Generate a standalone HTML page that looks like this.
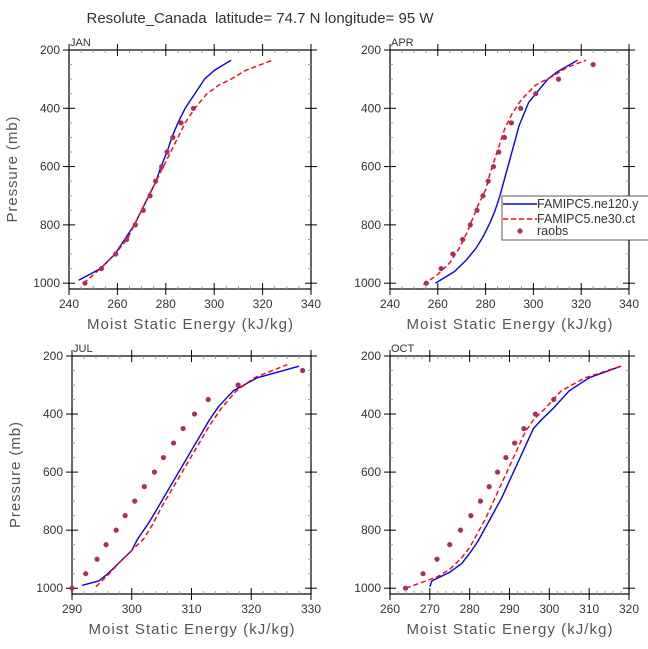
<!DOCTYPE html>
<html><head><meta charset="utf-8"><style>
html,body{margin:0;padding:0;background:#fff}
svg{display:block;font-family:"Liberation Sans",sans-serif}
</style></head><body>
<svg id="c" width="648" height="649" viewBox="0 0 648 649">
<text x="260" y="23" text-anchor="middle" font-size="15" fill="#333" style="white-space:pre" textLength="347">Resolute_Canada  latitude= 74.7 N longitude= 95 W</text>
</svg>
<script>
const levels=[1000,950,900,850,800,750,700,650,600,550,500,450,400,350,300,250];
const janObs=[246.6,253.4,259.3,263.8,267.4,270.7,273.5,275.8,278.3,280.5,282.9,286.3,291.4];
const janBlueX=[244,253,259,263,267,270,273,276,278,280.5,282.5,285,288,292,296,300,307];
const janBlueP=[990,950,900,850,800,750,700,650,600,550,500,450,400,350,300,270,235];
const janRedX=[246,253,259,264,267,270,273,276,279,282,285,288,292,297,302,307,313,324];
const janRedP=[1000,950,900,850,800,750,700,650,600,550,500,450,400,350,320,300,270,235];
const aprObs=[255.2,261.4,266.3,270.4,273.6,276.4,278.9,281.1,283.3,285.5,287.9,290.8,294.7,301,310.5,325];
const aprBlueX=[259,263,267,272,276,279,282,284,286,288,290,292,294,296,298,302,306,310,318.5];
const aprBlueP=[1000,980,960,920,880,840,790,750,700,640,580,520,460,420,380,340,300,275,235];
const aprRedX=[254,260,265,269,272,275,277,280,282,284,286,288,291,295,301,308,314,322];
const aprRedP=[1005,970,930,880,830,770,730,680,620,570,520,470,420,370,320,290,260,235];
const julObs=[290,292.3,294.2,295.7,297.4,298.9,300.5,302.1,303.8,305.3,307,308.6,310.5,312.8,317.8,328.6];
const julBlueX=[291.7,294.5,296,298,300,301,303,305,307,309,311,313,314.5,317,321,328];
const julBlueP=[990,975,950,910,870,830,770,700,630,560,490,420,375,320,275,235];
const julRedX=[294,296,298,300,302,303.5,305,307,309,311,313,315,317.5,320.5,326];
const julRedP=[995,955,910,870,830,780,720,650,580,510,440,380,320,275,230];
const octObs=[263.9,268.3,271.8,275,277.7,280.3,282.7,284.9,287,289.1,291.3,293.6,296.5,301.1];
const octBlueX=[270,270.5,272,275,278,280,282,284,286,288,290,292,294,296,298,301,305,310,318];
const octBlueP=[995,975,965,945,915,880,840,790,740,690,630,570,510,450,420,380,320,275,235];
const octRedX=[264,268,272,275,278,280,282,284,286,288,290,292,294,296,299,303,309,318];
const octRedP=[1000,980,960,935,895,860,810,760,700,640,580,520,460,420,380,320,275,235];
const pTicks=[200,400,600,800,1000];

const NS="http://www.w3.org/2000/svg";
const svg=document.getElementById('c');
function mk(t,a,p){const e=document.createElementNS(NS,t);for(const k in a)e.setAttribute(k,a[k]);(p||svg).appendChild(e);return e;}

const panels=[
 {name:'jan',label:'JAN',x0:69,x1:311,y0:50,y1:289,xmin:240,xmax:340,xstep:20,minor:5,obs:janObs,bx:janBlueX,bp:janBlueP,rx:janRedX,rp:janRedP,ylab:true},
 {name:'apr',label:'APR',x0:390,x1:629,y0:50,y1:289,xmin:240,xmax:340,xstep:20,minor:5,obs:aprObs,bx:aprBlueX,bp:aprBlueP,rx:aprRedX,rp:aprRedP,ylab:false,legend:true},
 {name:'jul',label:'JUL',x0:72,x1:311,y0:356,y1:594,xmin:290,xmax:330,xstep:10,minor:2,obs:julObs,bx:julBlueX,bp:julBlueP,rx:julRedX,rp:julRedP,ylab:true},
 {name:'oct',label:'OCT',x0:390,x1:629,y0:356,y1:594,xmin:260,xmax:320,xstep:10,minor:2,obs:octObs,bx:octBlueX,bp:octBlueP,rx:octRedX,rp:octRedP,ylab:false}
];
panels.forEach(P=>{
 const g=mk('g',{});
 
 
 const y1000=P.y0+(P.y1-P.y0)*800/820;
 const X=v=>P.x0+(v-P.xmin)/(P.xmax-P.xmin)*(P.x1-P.x0);
 const Y=p=>P.y0+(p-200)/800*(y1000-P.y0);
 const fr=mk('rect',{x:P.x0,y:P.y0,width:P.x1-P.x0,height:P.y1-P.y0,fill:'none',stroke:'#000','stroke-width':1.2},g);
 
 
 for(let v=P.xmin;v<=P.xmax+1e-9;v+=P.minor){
  const x=X(v);const maj=Math.abs(((v-P.xmin)/P.xstep)-Math.round((v-P.xmin)/P.xstep))<1e-6;
  const L=maj?6:3;
  mk('line',{x1:x,x2:x,y1:P.y1-L,y2:P.y1+(maj?6:0),stroke:maj?'#000':'#999'},g);
  mk('line',{x1:x,x2:x,y1:P.y0+L,y2:P.y0-(maj?6:0),stroke:maj?'#000':'#999'},g);
  if(maj){const t=mk('text',{x:x,y:P.y1+19,'text-anchor':'middle','font-size':12,fill:'#333'},g);t.textContent=Math.round(v);
   }
 }
 for(let p=200;p<=1000;p+=50){
  const y=Y(p);const maj=p%200===0;const L=maj?6:3;
  mk('line',{x1:P.x0-(maj?6:0),x2:P.x0+L,y1:y,y2:y,stroke:maj?'#000':'#999'},g);
  mk('line',{x1:P.x1+(maj?6:0),x2:P.x1-L,y1:y,y2:y,stroke:maj?'#000':'#999'},g);
 }
 pTicks.forEach(p=>{const t=mk('text',{x:P.x0-9,y:Y(p)+4,'text-anchor':'end','font-size':12,fill:'#333'},g);t.textContent=p;
  });
 const lb=mk('text',{x:P.x0+1,y:P.y0-4,'font-size':11,fill:'#333'},g);lb.textContent=P.label;
 
 const xt=mk('text',{x:(P.x0+P.x1)/2,y:P.y1+40,'text-anchor':'middle','font-size':15,fill:'#555',textLength:206},g);xt.textContent='Moist Static Energy (kJ/kg)';
 
 if(P.ylab){const yt=mk('text',{x:0,y:0,transform:`translate(${P.x0-52},${(P.y0+P.y1)/2}) rotate(-90)`,'text-anchor':'middle','font-size':15,fill:'#555',textLength:106},g);yt.textContent='Pressure (mb)';
  }
 const bl=mk('polyline',{points:P.bx.map((v,i)=>X(v)+','+Y(P.bp[i])).join(' '),fill:'none',stroke:'#0000ff','stroke-width':1.4,'stroke-linejoin':'round'},g);
 
 const rl=mk('polyline',{points:P.rx.map((v,i)=>X(v)+','+Y(P.rp[i])).join(' '),fill:'none',stroke:'#ff0000','stroke-width':1.4,'stroke-dasharray':'5,3','stroke-linejoin':'round'},g);
 
 P.obs.forEach((v,i)=>{const c=mk('circle',{cx:X(v),cy:Y(levels[i]),r:2.6,fill:'#a8305a'},g);
  });
 if(P.legend){
  const lg=mk('g',{},g);
  
  mk('rect',{x:502,y:196,width:160,height:44,fill:'#fff',stroke:'#333','stroke-width':0.8},lg);
  mk('line',{x1:503,x2:537,y1:204,y2:204,stroke:'#0000ff','stroke-width':1.4},lg);
  mk('line',{x1:503,x2:537,y1:219,y2:219,stroke:'#ff0000','stroke-width':1.4,'stroke-dasharray':'5,3'},lg);
  mk('circle',{cx:520,cy:231,r:2.6,fill:'#a8305a'},lg);
  [['FAMIPC5.ne120.y',208],['FAMIPC5.ne30.ct',223],['raobs',235]].forEach(a=>{const t=mk('text',{x:537,y:a[1],'font-size':12.5,fill:'#333'},lg);t.textContent=a[0];
   });
 }
});
</script>
</body></html>
